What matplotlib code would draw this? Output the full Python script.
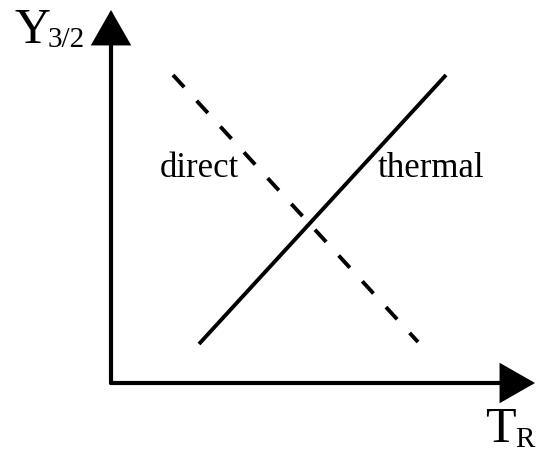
import matplotlib
matplotlib.use('Agg')
import matplotlib.pyplot as plt

# schematic lines (arbitrary units, origin at the axes corner)
thermal_x = [8.8, 33.5]
thermal_y = [3.9, 30.8]
direct_x = [6.2, 30.7]
direct_y = [30.8, 4.1]

x_end = 42.4
y_end = 37.3

plt.rcParams['font.family'] = ['Liberation Serif', 'DejaVu Serif']

fig = plt.figure(figsize=(5.37, 4.55), dpi=100)
ax = fig.add_axes([0, 0, 1, 1])
ax.set_xlim(-11.1, 42.6)
ax.set_ylim(-7.2, 38.3)
ax.axis('off')

# axes arrows
arrow = dict(arrowstyle='-|>,head_length=21,head_width=12', mutation_scale=1,
             lw=3.0, color='black', shrinkA=0, shrinkB=0, joinstyle='miter')
ax.annotate('', xy=(0, y_end), xytext=(0, 0), arrowprops=arrow)
ax.annotate('', xy=(x_end, 0), xytext=(0, 0), arrowprops=arrow)

ax.plot(thermal_x, thermal_y, color='black', lw=2.8, solid_capstyle='butt')
ax.plot(direct_x, direct_y, color='black', lw=2.8, linestyle=(0, (4.25, 4.75)),
        dash_capstyle='butt')

ax.text(4.9, 20.6, 'direct', fontsize=25, va='baseline', ha='left')
ax.text(26.7, 20.6, 'thermal', fontsize=25, va='baseline', ha='left')

ax.text(-9.7, 34.0, 'Y', fontsize=36, va='baseline', ha='left')
ax.text(-6.3, 33.6, '3/2', fontsize=21, va='baseline', ha='left')
ax.text(37.4, -5.9, 'T', fontsize=36, va='baseline', ha='left')
ax.text(40.4, -6.4, 'R', fontsize=21, va='baseline', ha='left')

plt.savefig('out.png', dpi=100)
